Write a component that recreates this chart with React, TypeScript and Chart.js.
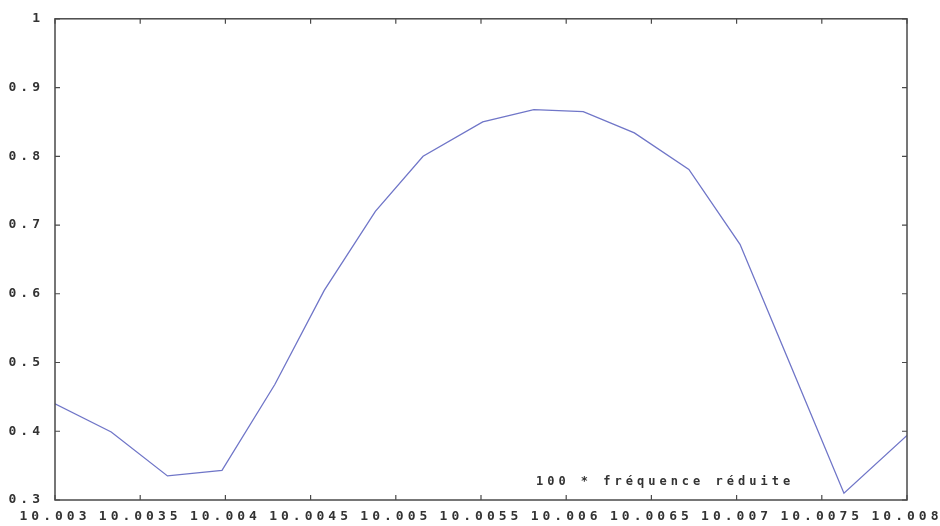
import React, { useEffect, useRef } from "react";
import { Chart, registerables } from "chart.js";

Chart.register(...registerables);

const xValues = [
  10.003, 10.00333, 10.00366, 10.00398, 10.00429, 10.00458, 10.00488, 10.00516,
  10.00551, 10.00581, 10.0061, 10.0064, 10.00672, 10.00702, 10.00731, 10.00763, 10.008,
];
const yValues = [
  0.44, 0.399, 0.335, 0.343, 0.468, 0.605, 0.72, 0.8,
  0.85, 0.868, 0.865, 0.834, 0.781, 0.672, 0.5, 0.31, 0.394,
];
const xTickValues = [10.003, 10.0035, 10.004, 10.0045, 10.005, 10.0055, 10.006, 10.0065, 10.007, 10.0075, 10.008];
const xTickLabels = ["10.003", "10.0035", "10.004", "10.0045", "10.005", "10.0055", "10.006", "10.0065", "10.007", "10.0075", "10.008"];
const yTickValues = [0.3, 0.4, 0.5, 0.6, 0.7, 0.8, 0.9, 1];
const yTickLabels = ["0.3", "0.4", "0.5", "0.6", "0.7", "0.8", "0.9", "1"];
const annotationText = "100 * fréquence réduite";
const annotationX = 10.00658;
const annotationY = 0.327;

const FONT = "'DejaVu Sans Mono', monospace";
const AXIS_COLOR = "#4a4a4a";

const framePlugin = {
  id: "frame",
  beforeDraw(chart: any) {
    chart.ctx.letterSpacing = "4px";
  },
  afterDraw(chart: any) {
    const ctx = chart.ctx;
    const { left, right, top, bottom } = chart.chartArea;
    const xs = chart.scales.x;
    const ys = chart.scales.y;
    ctx.save();
    ctx.letterSpacing = "0px";
    ctx.strokeStyle = AXIS_COLOR;
    ctx.lineWidth = 1.5;
    ctx.strokeRect(left, top, right - left, bottom - top);
    ctx.lineWidth = 1.2;
    ctx.beginPath();
    xTickValues.forEach((v) => {
      const px = xs.getPixelForValue(v);
      ctx.moveTo(px, bottom);
      ctx.lineTo(px, bottom - 5);
      ctx.moveTo(px, top);
      ctx.lineTo(px, top + 5);
    });
    yTickValues.forEach((v) => {
      const py = ys.getPixelForValue(v);
      ctx.moveTo(left, py);
      ctx.lineTo(left + 5, py);
      ctx.moveTo(right, py);
      ctx.lineTo(right - 5, py);
    });
    ctx.stroke();
    ctx.letterSpacing = "4px";
    ctx.font = `bold 12px ${FONT}`;
    ctx.fillStyle = "#333";
    ctx.textAlign = "center";
    ctx.textBaseline = "middle";
    ctx.fillText(annotationText, xs.getPixelForValue(annotationX), ys.getPixelForValue(annotationY));
    ctx.restore();
    ctx.letterSpacing = "0px";
  },
};

export default function App() {
  const ref = useRef<HTMLCanvasElement | null>(null);
  useEffect(() => {
    if (!ref.current) return;
    const chart = new Chart(ref.current, {
      type: "line",
      data: {
        datasets: [
          {
            data: xValues.map((x, i) => ({ x, y: yValues[i] })),
            borderColor: "rgb(112,118,200)",
            borderWidth: 1.3,
            pointRadius: 0,
            fill: false,
            tension: 0,
          },
        ],
      },
      options: {
        animation: false,
        responsive: true,
        maintainAspectRatio: false,
        layout: { padding: { top: 17, right: 33, bottom: 0, left: 0 } },
        plugins: { legend: { display: false }, tooltip: { enabled: false } },
        scales: {
          x: {
            type: "linear",
            min: 10.003,
            max: 10.008,
            afterBuildTicks: (scale: any) => {
              scale.ticks = xTickValues.map((v) => ({ value: v }));
            },
            afterFit: (scale: any) => {
              scale.height = 26;
            },
            grid: { display: false, drawTicks: false },
            border: { display: false },
            ticks: {
              autoSkip: false,
              maxRotation: 0,
              minRotation: 0,
              padding: 9,
              color: "#333",
              font: { family: FONT, size: 13, weight: "bold" },
              callback: (_v: any, i: number) => xTickLabels[i],
            },
          },
          y: {
            type: "linear",
            min: 0.3,
            max: 1,
            afterBuildTicks: (scale: any) => {
              scale.ticks = yTickValues.map((v) => ({ value: v }));
            },
            afterFit: (scale: any) => {
              scale.width = 55;
            },
            grid: { display: false, drawTicks: false },
            border: { display: false },
            ticks: {
              autoSkip: false,
              padding: 11,
              color: "#333",
              font: { family: FONT, size: 13, weight: "bold" },
              callback: (_v: any, i: number) => yTickLabels[i],
            },
          },
        },
      } as any,
      plugins: [framePlugin],
    });
    return () => chart.destroy();
  }, []);
  return (
    <div style={{ position: "fixed", left: 0, top: 0, width: 940, height: 526, background: "#fff" }}>
      <canvas ref={ref} />
    </div>
  );
}
